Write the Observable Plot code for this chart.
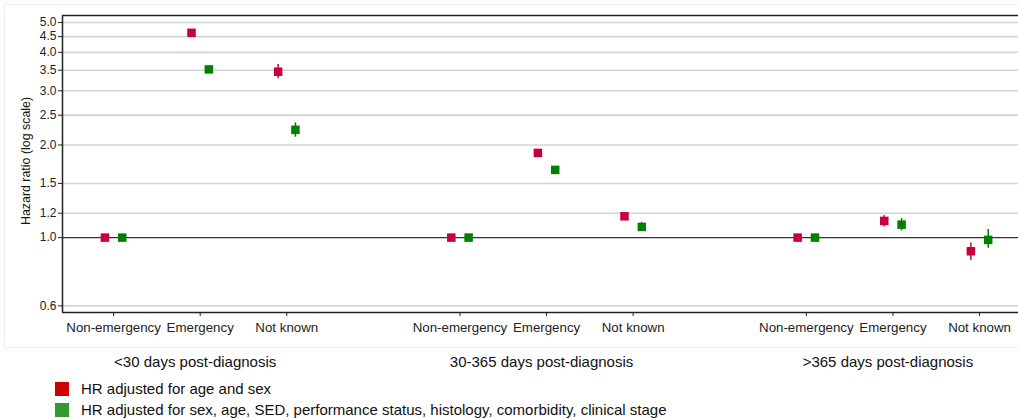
<!DOCTYPE html>
<html>
<head>
<meta charset="utf-8">
<script src="https://cdn.jsdelivr.net/npm/d3@7"></script>
<script src="https://cdn.jsdelivr.net/npm/@observablehq/plot@0.6"></script>
<style>
  html, body { margin: 0; padding: 0; background: #fff; }
  body { width: 1018px; height: 418px; overflow: hidden; position: relative; font-family: "Liberation Sans", Arial, sans-serif; }
  #bg { position: absolute; left: 4px; top: 4px; width: 1020px; height: 344px; border: 1px solid #e9f1f1; box-sizing: border-box; }
  #chart { position: absolute; left: 0; top: 0; }
  #legend { position: absolute; left: 55px; top: 381px; font-size: 15px; color: #111; }
  .row { display: flex; align-items: center; height: 21px; line-height: 17px; }
  .sw { width: 14px; height: 14px; margin-right: 12px; }
</style>
</head>
<body>
<div id="bg"></div>
<div id="chart"></div>
<div id="legend"></div>
<script>
const groups = ["<30 days post-diagnosis", "30-365 days post-diagnosis", ">365 days post-diagnosis"];
const routes = ["Non-emergency", "Emergency", "Not known"];
const seriesNames = ["HR adjusted for age and sex", "HR adjusted for sex, age, SED, performance status, histology, comorbidity, clinical stage"];
const yTicks = [0.6, 1.0, 1.2, 1.5, 2.0, 2.5, 3.0, 3.5, 4.0, 4.5, 5.0];

// HR adjusted for age and sex (group-major: <30, 30-365, >365; each Non-emergency, Emergency, Not known)
const hrAgeSex   = [1.0, 4.63, 3.46, 1.0, 1.885, 1.173, 1.0, 1.133, 0.903];
const lowAgeSex  = [1.0, 4.55, 3.28, 1.0, 1.86, 1.135, 1.0, 1.083, 0.842];
const highAgeSex = [1.0, 4.72, 3.65, 1.0, 1.91, 1.20, 1.0, 1.179, 0.961];
// Fully adjusted HR
const hrFull   = [1.0, 3.52, 2.24, 1.0, 1.66, 1.083, 1.0, 1.102, 0.983];
const lowFull  = [1.0, 3.45, 2.12, 1.0, 1.64, 1.046, 1.0, 1.051, 0.923];
const highFull = [1.0, 3.60, 2.36, 1.0, 1.68, 1.119, 1.0, 1.153, 1.062];

const colors = ["#c8003c", "#008000"];
const legendColors = ["#cc0000", "#339933"];

// build table
const rows = [];
groups.forEach((g, gi) => routes.forEach((r, ri) => {
  const i = gi * 3 + ri;
  const pos = gi * 4 + ri;
  rows.push({series: 0, pos, hr: hrAgeSex[i], lo: lowAgeSex[i], hi: highAgeSex[i]});
  rows.push({series: 1, pos, hr: hrFull[i], lo: lowFull[i], hi: highFull[i]});
}));
const tickPos = [], tickLab = [];
groups.forEach((g, gi) => routes.forEach((r, ri) => { tickPos.push(gi * 4 + ri); tickLab.push(r); }));
const groupRows = groups.map((g, gi) => ({label: g, pos: gi * 4 + 1}));
const off = 0.1;
const xOf = d => d.pos + (d.series === 0 ? -off : off);

const yDomain = [0.571, 5.27];
const xDomain = [-0.59, 10.45];

const chart = Plot.plot({
  width: 1018,
  height: 372,
  marginTop: 15,
  marginBottom: 60,
  marginLeft: 62,
  marginRight: 0,
  style: {fontFamily: "'Liberation Sans', Arial, sans-serif", fontSize: "12px", color: "#222", background: "transparent"},
  x: {type: "linear", domain: xDomain},
  y: {type: "log", domain: yDomain},
  marks: [
    Plot.ruleY(yTicks.filter(t => t !== 1), {stroke: "#d4d4d4", strokeWidth: 1.6}),
    Plot.ruleY([1], {stroke: "#333", strokeWidth: 1.4}),
    Plot.ruleY([yDomain[0], yDomain[1]], {stroke: "#222", strokeWidth: 1.5}),
    Plot.ruleX([xDomain[0]], {stroke: "#222", strokeWidth: 1.5}),
    Plot.axisY({ticks: yTicks, tickFormat: d3.format(".1f"), tickSize: 4, tickPadding: 2, fontSize: 12, label: null, stroke: "#222"}),
    Plot.axisX({ticks: tickPos, tickFormat: (d) => tickLab[tickPos.indexOf(d)], tickSize: 4, tickPadding: 6, fontSize: 13.3, label: null, stroke: "#222"}),
    Plot.text(["Hazard ratio (log scale)"], {frameAnchor: "left", textAnchor: "middle", rotate: -90, dx: -36, dy: -3, fontSize: 12.4, fill: "#111"}),
    Plot.text(groupRows, {x: "pos", frameAnchor: "bottom", dy: 54, dx: -5, text: "label", fontSize: 15, fill: "#111"}),
    Plot.ruleX(rows.filter(d => d.hi !== d.lo), {x: xOf, y1: "lo", y2: "hi", stroke: d => colors[d.series], strokeWidth: 1.5}),
    Plot.dot(rows, {x: xOf, y: "hr", symbol: "square", r: 4.8, fill: d => colors[d.series], stroke: "none"})
  ]
});
document.getElementById("chart").appendChild(chart);

const legend = document.getElementById("legend");
seriesNames.forEach((n, i) => {
  const row = document.createElement("div");
  row.className = "row";
  row.style.marginTop = i === 0 ? "-3px" : "0px";
  const sw = document.createElement("div");
  sw.className = "sw";
  sw.style.background = legendColors[i];
  const t = document.createElement("span");
  t.textContent = n;
  row.appendChild(sw); row.appendChild(t);
  legend.appendChild(row);
});
</script>
</body>
</html>
